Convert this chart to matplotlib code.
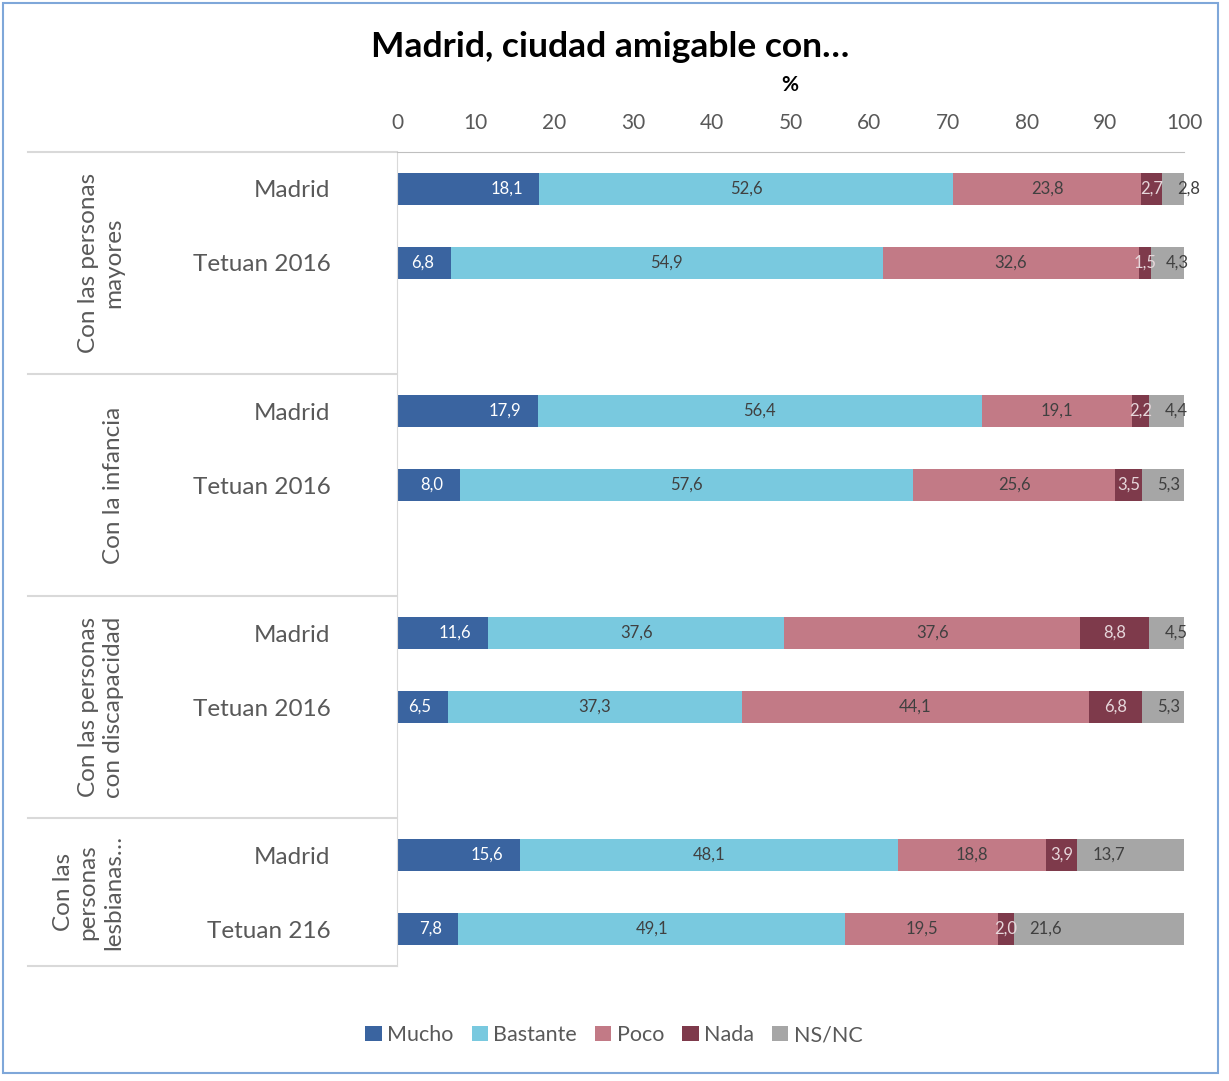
import matplotlib
matplotlib.use("Agg")
import matplotlib.pyplot as plt
from matplotlib.patches import Rectangle, Patch

plt.rcParams['font.family'] = ['Lato', 'DejaVu Sans']

# datos
grupos = ["Con las personas\nmayores", "Con la infancia",
          "Con las personas\ncon discapacidad", "Con las\npersonas\nlesbianas\u2026"]
categorias = [["Madrid", "Tetuan 2016"], ["Madrid", "Tetuan 2016"],
              ["Madrid", "Tetuan 2016"], ["Madrid", "Tetuan 216"]]
series = ["Mucho", "Bastante", "Poco", "Nada", "NS/NC"]
mucho    = [18.1, 6.8, 17.9, 8.0, 11.6, 6.5, 15.6, 7.8]
bastante = [52.6, 54.9, 56.4, 57.6, 37.6, 37.3, 48.1, 49.1]
poco     = [23.8, 32.6, 19.1, 25.6, 37.6, 44.1, 18.8, 19.5]
nada     = [2.7, 1.5, 2.2, 3.5, 8.8, 6.8, 3.9, 2.0]
nsnc     = [2.8, 4.3, 4.4, 5.3, 4.5, 5.3, 13.7, 21.6]
valores = [mucho, bastante, poco, nada, nsnc]

colores = ["#3A64A0", "#79C9DF", "#C27A86", "#7E3A4B", "#A6A6A6"]
color_etiqueta = ["white", "#404040", "#404040", "#E6D6DA", "#404040"]
gris = "#595959"

W, H = 1229, 1081
fig = plt.figure(figsize=(W / 100, H / 100), dpi=100)
ax = fig.add_axes([397 / W, 1 - 966 / H, 787 / W, 814 / H])

# posiciones: 3 huecos por grupo (el ultimo solo 2)
pos = []
for g in range(len(grupos)):
    pos += [g * 3, g * 3 + 1]

izq = [0.0] * len(pos)
for s in range(len(series)):
    ax.barh(pos, valores[s], left=izq, height=0.42, color=colores[s],
            label=series[s], edgecolor='none')
    for i in range(len(pos)):
        v = valores[s][i]
        txt = ("%.1f" % v).replace(".", ",")
        if s == 0:
            ax.annotate(txt, (izq[i] + v, pos[i]), xytext=(-12, 0), textcoords='offset points',
                        ha='right', va='center', fontsize=12, color=color_etiqueta[s])
        elif s == 4:
            ax.annotate(txt, (izq[i], pos[i]), xytext=(11, 0), textcoords='offset points',
                        ha='left', va='center', fontsize=12, color=color_etiqueta[s])
        else:
            ax.text(izq[i] + v / 2, pos[i], txt, ha='center', va='center',
                    fontsize=12, color=color_etiqueta[s])
        izq[i] += v

ax.set_xlim(0, 100)
ax.set_ylim(10.5, -0.5)
ax.xaxis.tick_top()
ax.set_xticks(range(0, 101, 10))
ax.tick_params(axis='x', length=0, pad=14, labelsize=15, labelcolor=gris)
ax.set_yticks(pos)
ax.set_yticklabels([c for par in categorias for c in par])
ax.tick_params(axis='y', length=0, pad=48, labelsize=17.5, labelcolor=gris)
for lado in ['right', 'bottom']:
    ax.spines[lado].set_visible(False)
ax.spines['top'].set_color('#BFBFBF')
ax.spines['left'].set_color('#D9D9D9')

# lineas separadoras y etiquetas de grupo
tr = ax.get_yaxis_transform()
x0 = (28 - 397) / 787
for b in [-0.5, 2.5, 5.5, 8.5, 10.5]:
    ax.plot([x0, 0], [b, b], color='#D9D9D9', lw=1.5, transform=tr, clip_on=False)
for g in range(len(grupos)):
    ini = g * 3 - 0.5
    fin = min(g * 3 + 2.5, 10.5)
    ax.text((124 - 397) / 787, (ini + fin) / 2, grupos[g], rotation=90, ha='right',
            va='center', multialignment='center', fontsize=17.5, color=gris,
            transform=tr, linespacing=1.25)

fig.text(610 / W, 1 - 47 / H, "Madrid, ciudad amigable con\u2026", ha='center', va='center',
         fontsize=25.5, fontweight='bold', color='black')
fig.text(790 / W, 1 - 85 / H, "%", ha='center', va='center', fontsize=15,
         fontweight='bold', color='black')

handles = [Patch(facecolor=c) for c in colores]
fig.legend(handles, series, loc='center', bbox_to_anchor=(614 / W, 1 - 1035 / H), ncol=5,
           frameon=False, fontsize=15.5, handlelength=0.75, handleheight=0.75,
           handletextpad=0.25, columnspacing=0.85, labelcolor=gris)

fig.patches.append(Rectangle((3 / W, 1 - 1073 / H), 1215 / W, 1070 / H, fill=False,
                             edgecolor='#7FA7D9', lw=1.5, transform=fig.transFigure))

fig.savefig("out.png", dpi=100)
